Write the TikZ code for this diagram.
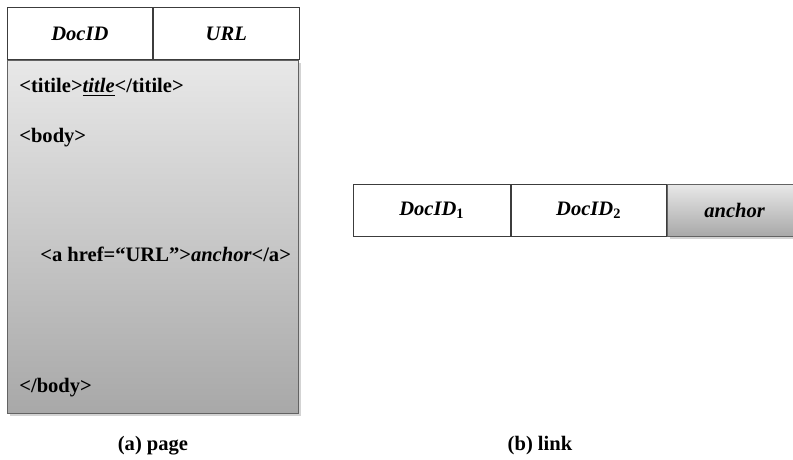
\documentclass[tikz,border=0pt]{standalone}
\usepackage{fontspec}
\setmainfont{Liberation Serif}
\usepackage{tikz}
\usetikzlibrary{positioning,shadows}
\definecolor{Edge}{HTML}{3C3C3C}
\definecolor{Top}{HTML}{E8E8E8}
\definecolor{Bot}{HTML}{A8A8A8}
\tikzset{
 cell/.style={draw=Edge,fill=white,line width=0.5pt,minimum height=1.04cm,
   inner sep=0pt,font=\bfseries\itshape\fontsize{11.7}{14}\selectfont},
 graycell/.style={draw=Edge!80,top color=Top,bottom color=Bot,
   drop shadow={shadow xshift=0.5mm,shadow yshift=-0.6mm,opacity=0.35}},
 tag/.style={anchor=base west,inner sep=0pt,font=\bfseries\fontsize{11.7}{14}\selectfont},
 captext/.style={anchor=base,inner sep=0pt,font=\bfseries\fontsize{11.7}{14}\selectfont}
}
\newcommand{\idsub}[1]{\textsubscript{\upshape #1}}

\begin{document}
\begin{tikzpicture}[x=0.02cm,y=-0.02cm]
\useasboundingbox (0,0) rectangle (793,459);
% (a) page
\node[cell,graycell,minimum width=5.82cm,minimum height=7.06cm,anchor=north west] (body) at (7,60) {};
\node[cell,minimum width=2.9cm,anchor=south west] (docid) at (body.north west) {DocID};
\node[cell,minimum width=2.92cm,anchor=west] (url) at (docid.east) {URL};
\node[tag] (t1) at (19,93) {<titile>\underline{\itshape title}</titile>};
\node[tag] (t2) at (19,143) {<body>};
\node[tag] (t3) at (40,261) {<a href=“URL”>{\itshape anchor}</a>};
\node[tag] (t4) at (19,392) {</body>};
\node[captext] (ca) at (153,450) {(a) page};
% (b) link
\node[cell,minimum width=3.14cm,anchor=north west] (d1) at (353,184) {DocID\idsub{1}};
\node[cell,minimum width=3.1cm,anchor=west] (d2) at (d1.east) {DocID\idsub{2}};
\node[cell,graycell,minimum width=2.7cm,anchor=west] (anc) at (d2.east) {anchor};
\node[captext] (cb) at (540,450) {(b) link};
\end{tikzpicture}
\end{document}
